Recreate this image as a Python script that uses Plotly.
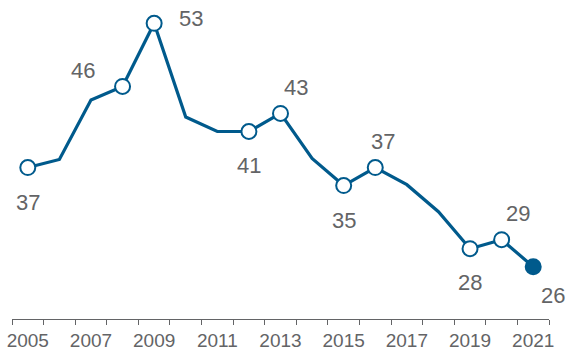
import plotly.graph_objects as go

# Annual series
years = list(range(2005, 2022))
values = [37, 37.9, 44.5, 46, 53, 42.6, 41.0, 41, 43, 38.0, 35, 37, 35.1, 32.1, 28, 29, 26]

# Years that carry a marker and a value label
labeled_years = [2005, 2008, 2009, 2012, 2013, 2015, 2016, 2019, 2020, 2021]
label_text = ["37", "46", "53", "41", "43", "35", "37", "28", "29", "26"]

tick_years = [2005, 2007, 2009, 2011, 2013, 2015, 2017, 2019, 2021]
tick_labels = [str(y) for y in tick_years]

BLUE = "#005a8c"
GREY = "#636466"
FONT = "Arial, Liberation Sans, sans-serif"

# label offsets (pixels) relative to each marker
label_shift = [(0, -35), (-40, 16), (37, 5), (0, -34), (15, 26), (0, -35), (8, 26), (0, -34), (16, 26), (20, -29)]

value_of = dict(zip(years, values))
lab_vals = [value_of[y] for y in labeled_years]

fig = go.Figure()
fig.add_trace(go.Scatter(
    x=years, y=values, mode="lines",
    line=dict(color=BLUE, width=3.2), hoverinfo="skip", showlegend=False,
))
fig.add_trace(go.Scatter(
    x=labeled_years[:-1], y=lab_vals[:-1], mode="markers",
    marker=dict(size=15, color="white", line=dict(color=BLUE, width=2)),
    showlegend=False,
))
fig.add_trace(go.Scatter(
    x=labeled_years[-1:], y=lab_vals[-1:], mode="markers",
    marker=dict(size=15, color=BLUE, line=dict(color=BLUE, width=2)),
    showlegend=False,
))

for yr, v, txt, (dx, dy) in zip(labeled_years, lab_vals, label_text, label_shift):
    fig.add_annotation(
        x=yr, y=v, text=txt, showarrow=False,
        xshift=dx, yshift=dy,
        font=dict(family=FONT, size=22, color=GREY),
    )

fig.update_layout(
    width=574, height=351,
    margin=dict(l=12, r=25, t=5, b=32),
    paper_bgcolor="white", plot_bgcolor="white",
    xaxis=dict(
        range=[2004.5, 2021.5],
        automargin=False,
        tickvals=tick_years, ticktext=tick_labels,
        ticks="", showgrid=False, zeroline=False,
        showline=True, linecolor=GREY, linewidth=1,
        ticklabelstandoff=4,
        tickfont=dict(family=FONT, size=19, color=GREY),
        minor=dict(tick0=2004.5, dtick=1, ticks="outside", ticklen=5,
                   tickcolor=GREY, tickwidth=1, showgrid=False),
    ),
    yaxis=dict(range=[20.2, 55.03], visible=False, automargin=False),
)

fig.write_html("out.html")
